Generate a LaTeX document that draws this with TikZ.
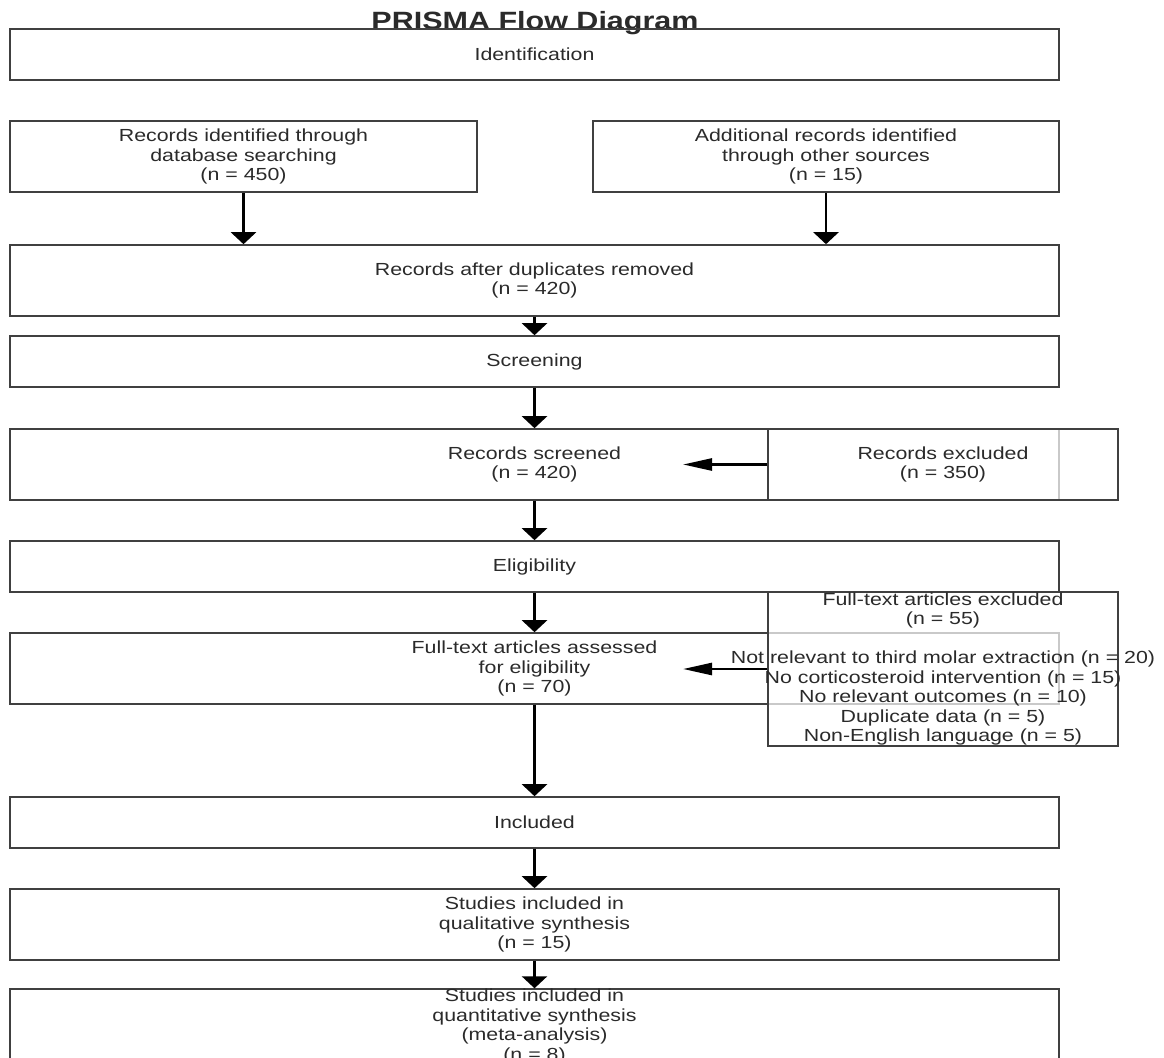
\documentclass[tikz,border=0pt]{standalone}
\usepackage{fontspec}
\setmainfont{Liberation Sans}[FakeStretch=1.22]
\usetikzlibrary{arrows.meta}
\definecolor{boxline}{HTML}{404040}
\definecolor{txt}{HTML}{2A2A2A}
\tikzset{
  box/.style={draw=boxline, line width=1.6pt, rectangle, inner sep=0pt, align=center,
    text=txt, font=\fontsize{17.5}{19.5}\selectfont},
  exbox/.style={box, fill=white, fill opacity=0.72, text opacity=1, draw opacity=1},
  extext/.style={align=center, text=txt, text opacity=1, fill opacity=1, inner sep=0pt,
    font=\fontsize{17.5}{19.5}\selectfont},
  varrow/.style={draw=black, line width=2.6pt, -{Triangle[width=25pt,length=12pt]}},
  harrow/.style={draw=black, line width=2.6pt, -{Triangle[width=12pt,length=29pt]}},
}
\begin{document}
\begin{tikzpicture}[x=1pt,y=-1pt]
\useasboundingbox (0,0) rectangle (1164,1057);
\node[font=\fontsize{25}{27}\selectfont\bfseries, text=txt, anchor=base, inner sep=0pt] (title) at (535,29.5) {PRISMA Flow Diagram};
\node[box, minimum width=1049pt, minimum height=51pt] (ident) at (534.5,54.5) {Identification};
\node[box, minimum width=467pt, minimum height=71pt] (db) at (243.5,156.5) {Records identified through\\database searching\\(n = 450)};
\node[box, minimum width=466pt, minimum height=71pt] (other) at (826,156.5) {Additional records identified\\through other sources\\(n = 15)};
\node[box, minimum width=1049pt, minimum height=71pt] (dup) at (534.5,280.5) {Records after duplicates removed\\(n = 420)};
\node[box, minimum width=1049pt, minimum height=51pt] (screen) at (534.5,361.5) {Screening};
\node[box, minimum width=1049pt, minimum height=71pt] (screened) at (534.5,464.5) {Records screened\\(n = 420)};
\node[box, minimum width=1049pt, minimum height=51pt] (elig) at (534.5,566.5) {Eligibility};
\node[box, minimum width=1049pt, minimum height=71pt] (assessed) at (534.5,668.5) {Full-text articles assessed\\for eligibility\\(n = 70)};
\node[box, minimum width=1049pt, minimum height=51pt] (incl) at (534.5,822.5) {Included};
\node[box, minimum width=1049pt, minimum height=71pt] (qual) at (534.5,924.5) {Studies included in\\qualitative synthesis\\(n = 15)};
\node[box, minimum width=1049pt, minimum height=71pt] (quant) at (534.5,1026.5) {Studies included in\\quantitative synthesis\\(meta-analysis)\\(n = 8)};
\node[exbox, minimum width=350pt, minimum height=71pt] (excl1) at (943,464.5) {Records excluded\\(n = 350)};
\node[exbox, minimum width=350pt, minimum height=154pt,
  label={[extext]center:{Full-text articles excluded\\(n = 55)\\[19.5pt]Not relevant to third molar extraction (n = 20)\\No corticosteroid intervention (n = 15)\\No relevant outcomes (n = 10)\\Duplicate data (n = 5)\\Non-English language (n = 5)}}] (excl2) at (943,669) {};
\coordinate (t1) at (683,464.5);
\coordinate (t2) at (683,669);
\draw[varrow] (db.south) -- (db.south |- dup.north);
\draw[varrow] (other.south) -- (other.south |- dup.north);
\draw[varrow] (dup.south) -- (screen.north);
\draw[varrow] (screen.south) -- (screened.north);
\draw[varrow] (screened.south) -- (elig.north);
\draw[varrow] (elig.south) -- (assessed.north);
\draw[varrow] (assessed.south) -- (incl.north);
\draw[varrow] (incl.south) -- (qual.north);
\draw[varrow] (qual.south) -- (quant.north);
\draw[harrow] (excl1.west) -- (t1);
\draw[harrow] (excl2.west) -- (t2);
\end{tikzpicture}
\end{document}
